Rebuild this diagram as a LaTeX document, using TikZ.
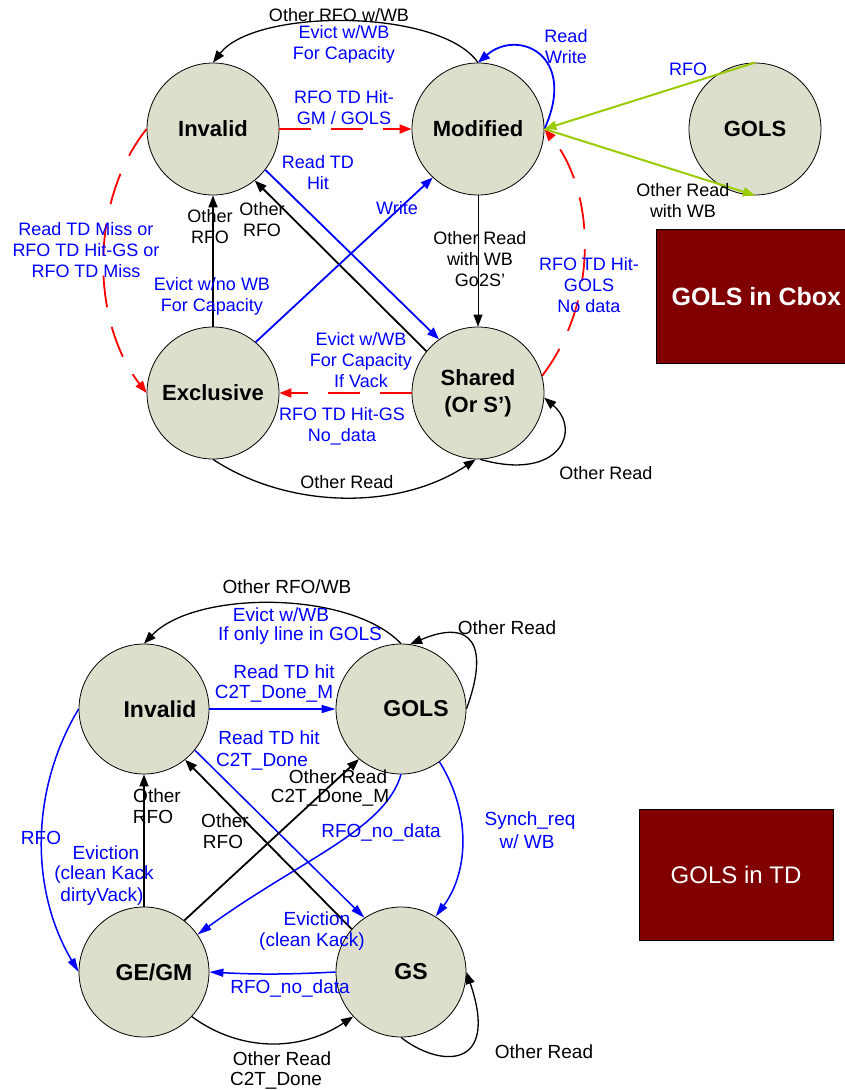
\documentclass[tikz,border=0pt]{standalone}
\usepackage{fontspec}
\setmainfont{Liberation Sans}
\usetikzlibrary{arrows.meta}
\definecolor{statefill}{RGB}{221,223,204}
\definecolor{boxred}{RGB}{128,0,0}
\definecolor{lblue}{RGB}{0,0,255}
\definecolor{lgreen}{RGB}{153,204,0}
\definecolor{lred}{RGB}{255,0,0}
\begin{document}
\begin{tikzpicture}[x=1pt,y=-1pt,
  state/.style={circle,draw=black,line width=0.8pt,fill=statefill,minimum size=132pt,
    inner sep=0pt,align=center,font=\fontsize{22}{27}\selectfont\bfseries},
  bstate/.style={state,minimum size=130pt,font=\fontsize{23}{27}\selectfont\bfseries},
  infobox/.style={rectangle,draw=black,line width=0.8pt,fill=boxred,inner sep=0pt,text=white},
  lbl/.style={inner sep=0pt,align=center,font=\fontsize{18}{21}\selectfont},
  blbl/.style={inner sep=0pt,align=center,font=\fontsize{19}{21.5}\selectfont},
  bt/.style={text=lblue},
  tip/.style={-{Triangle[length=12pt,width=9pt]}},
  btip/.style={-{Triangle[length=14pt,width=8pt]}},
  blk/.style={draw=black,line width=1.3pt,tip},
  blkthick/.style={draw=black,line width=1.8pt,tip},
  blu/.style={draw=lblue,line width=1.8pt,tip},
  reddash/.style={draw=lred,line width=1.8pt,dash pattern=on 32pt off 20pt,tip},
  grn/.style={draw=lgreen,line width=2pt,tip},
]
\useasboundingbox (0,0) rectangle (844,1090);

% ---------- Cbox states ----------
\node[state] (inv) at (213,129) {Invalid};
\node[state] (mod) at (478,129) {Modified};
\node[state] (gols) at (755,129) {GOLS};
\node[state] (exc) at (213,393) {Exclusive};
\node[state] (sh) at (478,393) {Shared\\(Or S’)};
\node[infobox,minimum width=200pt,minimum height=134pt,anchor=north west,
  font=\fontsize{25}{30}\selectfont\bfseries] (cbox) at (656,229) {GOLS in Cbox};

% Cbox transitions
\draw[blk] (mod.north) .. controls (440,8) and (255,8) .. (inv.north);
\draw[blu] (mod.east) .. controls (578,55) and (518,28) .. (mod.north);
\draw[reddash] (inv.east) -- (mod.west);
\draw[reddash] (inv.west) .. controls (90,200) and (90,320) .. (exc.west);
\draw[blkthick] (exc.north) -- (inv.south);
\draw[blkthick] (sh.141) -- (inv.-51);
\draw[blu] (inv.-38) -- (sh.126);
\draw[blu] (exc.50) -- (mod.-133);
\draw[draw=black,line width=0.9pt,tip] (mod.south) -- (sh.north);
\draw[reddash] (sh.15) .. controls (600,300) and (595,190) .. (mod.east);
\draw[reddash] (sh.west) -- (exc.east);
\draw[blk] (exc.south) .. controls (290,510) and (400,510) .. (sh.-92);
\draw[blk] (sh.-88) .. controls (560,482) and (582,430) .. (sh.-4);
\draw[grn] (gols.north) -- (mod.east);
\draw[grn] (mod.east) -- (gols.south);

% Cbox labels
\node[lbl] (l1) at (339,15) {Other RFO w/WB};
\node[lbl,bt] (l2) at (344,44.5) {Evict w/WB\\For Capacity};
\node[lbl,bt] (l3) at (566,46.5) {Read\\Write};
\node[lbl,bt] (l4) at (344,107.5) {RFO TD Hit-\\GM / GOLS};
\node[lbl,bt] (l5) at (688,69) {RFO};
\node[lbl] (l6) at (683,200.5) {Other Read\\with WB};
\node[lbl,bt] (l7) at (318,172.5) {Read TD\\Hit};
\node[lbl] (l8) at (210,226.5) {Other\\RFO};
\node[lbl] (l9) at (262,219.5) {Other\\RFO};
\node[lbl,bt] (l10) at (397,208) {Write};
\node[lbl,bt] (l11) at (86,250) {Read TD Miss or\\RFO TD Hit-GS or\\RFO TD Miss};
\node[lbl] (l12) at (480,259) {Other Read\\with WB\\Go2S'};
\node[lbl,bt] (l13) at (589,285) {RFO TD Hit-\\GOLS\\No data};
\node[lbl,bt] (l14) at (212,296) {Evict w/no WB\\For Capacity};
\node[lbl,bt] (l15) at (361,360.5) {Evict w/WB\\For Capacity\\If Vack};
\node[lbl,bt] (l16) at (342,426) {RFO TD Hit-GS\\No\_data};
\node[lbl] (l17) at (347,482) {Other Read};
\node[lbl] (l18) at (606,473) {Other Read};

% ---------- TD states ----------
\node[bstate] (binv) at (144,709) {\hspace*{32pt}Invalid};
\node[bstate] (bgols) at (401,709) {\hspace*{30pt}GOLS};
\node[bstate] (bge) at (144,972) {\hspace*{20pt}GE/GM};
\node[bstate] (bgs) at (401,972) {\hspace*{20pt}GS};
\node[infobox,minimum width=194pt,minimum height=131pt,
  font=\fontsize{24}{29}\selectfont] (tdbox) at (736,874.5) {GOLS in TD};

% TD transitions
\draw[blk] (bgols.north) .. controls (350,590) and (195,590) .. (binv.north);
\draw[blk] (bgols.east) .. controls (490,645) and (472,618) .. (bgols.82);
\draw[draw=lblue,line width=1.2pt,btip] (binv.east) -- (bgols.west);
\draw[draw=lblue,line width=1.5pt,btip] (binv.-39) -- (bgs.124);
\draw[blkthick] (bgs.139) -- (binv.-51);
\draw[blkthick] (bge.north) -- (binv.south);
\draw[blkthick] (bge.52) -- (bgols.-130);
\draw[draw=lblue,line width=1.5pt,btip] (bgols.south) .. controls (385,830) and (300,860) .. (bge.35);
\draw[draw=lblue,line width=1.5pt,btip] (bgols.-54) .. controls (470,810) and (470,870) .. (bgs.58);
\draw[draw=lblue,line width=1.5pt,btip] (binv.west) .. controls (30,790) and (30,890) .. (bge.west);
\draw[draw=lblue,line width=1.5pt,btip] (bgs.west) to[bend left=3] (bge.east);
\draw[blk] (bge.-43) .. controls (240,1052) and (300,1052) .. (bgs.-137);
\draw[blk] (bgs.-90) .. controls (440,1068) and (500,1070) .. (bgs.east);

% TD labels
\node[blbl] (m1) at (287,587) {Other RFO/WB};
\node[blbl,bt] (m2) at (281,615) {Evict w/WB};
\node[blbl,bt] (m3) at (300,636) {If only line in GOLS};
\node[blbl] (m4) at (507,628) {Other Read};
\node[blbl,bt] (m5) at (284,672) {Read TD hit};
\node[blbl,bt] (m6) at (274,694) {C2T\_Done\_M};
\node[blbl,bt] (m7) at (269,738) {Read TD hit};
\node[blbl,bt] (m8) at (262,762) {C2T\_Done};
\node[blbl] (m9) at (338,777) {Other Read};
\node[blbl] (m10) at (330,798) {C2T\_Done\_M};
\node[blbl] (m11) at (157,796) {Other};
\node[blbl] (m12) at (153,817) {RFO};
\node[blbl] (m13) at (225,821) {Other};
\node[blbl] (m14) at (223,842) {RFO};
\node[blbl,bt] (m15) at (381,832) {RFO\_no\_data};
\node[blbl,bt] (m16) at (530,821) {Synch\_req};
\node[blbl,bt] (m17) at (527,842) {w/ WB};
\node[blbl,bt] (m18) at (41,838) {RFO};
\node[blbl,bt] (m19) at (106,853) {Eviction};
\node[blbl,bt] (m20) at (104,875) {(clean Kack};
\node[blbl,bt] (m21) at (102,897) {dirtyVack)};
\node[blbl,bt] (m22) at (317,919) {Eviction};
\node[blbl,bt] (m23) at (312,942) {(clean Kack)};
\node[blbl,bt] (m24) at (290,988) {RFO\_no\_data};
\node[blbl] (m25) at (282,1059) {Other Read};
\node[blbl] (m26) at (276,1081) {C2T\_Done};
\node[blbl] (m27) at (544,1052) {Other Read};
\end{tikzpicture}
\end{document}
